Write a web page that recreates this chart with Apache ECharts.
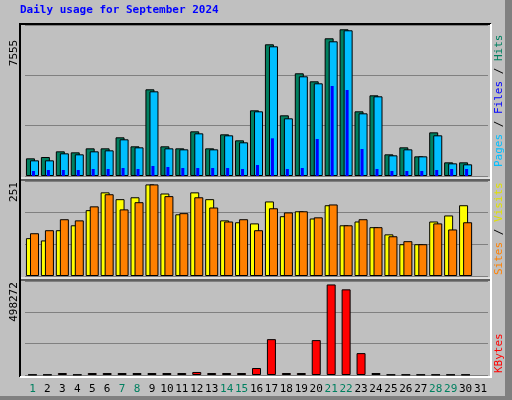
<!DOCTYPE html>
<html>
<head>
<meta charset="utf-8">
<script src="https://cdn.jsdelivr.net/npm/echarts@6/dist/echarts.min.js"></script>
<style>html,body{margin:0;padding:0;background:#c0c0c0}#main{width:512px;height:400px}</style>
</head>
<body>
<div id="main"></div>
<script>
var chart = echarts.init(document.getElementById("main"));

// days of September 2024 (31 slots like webalizer)
const days = ["1","2","3","4","5","6","7","8","9","10","11","12","13","14","15","16","17","18","19","20","21","22","23","24","25","26","27","28","29","30","31"];
const weekend = ["1","7","8","14","15","21","22","28","29"];
const hits = [884,950,1234,1184,1384,1384,1935,1485,4337,1485,1384,2235,1384,2085,1785,3286,6589,3036,5138,4737,6889,7340,3236,4037,1084,1434,984,2185,684,684,null];
const files = [784,784,1134,1084,1234,1284,1835,1434,4237,1384,1334,2135,1334,2035,1685,3236,6489,2886,4988,4637,6739,7290,3136,3987,1034,1334,984,2035,634,584,null];
const pages = [250,300,300,300,350,350,400,350,500,450,400,400,400,400,350,550,1885,350,400,1852,4504,4304,1351,350,250,250,250,300,350,350,null];
const visits = [100,94,121,134,174,221,203,208,242,218,163,221,203,147,142,139,197,158,171,152,187,134,144,129,110,84,84,144,160,187,null];
const sites = [113,121,150,147,184,216,176,195,242,211,166,208,181,144,150,121,179,168,171,155,189,134,150,129,105,92,84,139,123,142,null];
const kbytes = [2000,2000,10500,2000,10500,10500,10500,10500,10500,10500,10500,16000,10500,10500,10500,37000,190000,10500,10500,185000,480000,454000,116000,10500,2000,2000,2000,2000,2000,2000,null];
const maxHits = 7555, maxVisits = 251, maxKb = 498272;

const mono = "DejaVu Sans Mono";
const panels = [[25, 176], [181, 276], [281, 375]];
const grids = panels.map(p => ({ left: 25, right: 24, top: p[0], height: p[1] - p[0] }));
// pages get their own grid, nudged right onto the left edge of the files bar
grids.push({ left: 26, right: 23, top: 25, height: 151 });

function xAx(gi, show) {
  return {
    type: "category", data: days, gridIndex: gi,
    axisLine: { show: false }, axisTick: { show: false },
    axisLabel: show ? {
      show: true, interval: 0, margin: 9, fontFamily: mono, fontSize: 11,
      formatter: v => weekend.includes(v) ? "{w|" + v + "}" : v,
      color: "#000", rich: { w: { color: "#008060", fontFamily: mono, fontSize: 11 } }
    } : { show: false }
  };
}
function yAx(gi, max, hide) {
  return {
    type: "value", gridIndex: gi, min: 0, max: max, interval: max / 3,
    axisLabel: { show: false }, axisLine: { show: false }, axisTick: { show: false },
    splitLine: { show: !hide, lineStyle: { color: "#808080", width: 1 } }
  };
}
const edge = { borderColor: "#000", borderWidth: 1 };
function bar(name, x, y, data, color, w, extra) {
  return Object.assign({
    name: name, type: "bar", xAxisIndex: x, yAxisIndex: y, data: data, barWidth: w,
    itemStyle: Object.assign({ color: color }, edge), silent: true, animation: false
  }, extra || {});
}

function vtext(x, y, parts) {
  return {
    type: "text", x: x, y: y, rotation: Math.PI / 2,
    style: {
      text: parts.map((p, i) => "{s" + i + "|" + p[0] + "}").join(""),
      rich: Object.fromEntries(parts.map((p, i) => ["s" + i, { fill: p[1], fontFamily: mono, fontSize: 11 }])),
      align: "left", verticalAlign: "middle"
    }
  };
}

option = {
  backgroundColor: "#c0c0c0",
  grid: grids,
  xAxis: [xAx(0, false), xAx(3, false), xAx(1, false), xAx(2, true)],
  yAxis: [yAx(0, maxHits), yAx(1, maxVisits), yAx(2, maxKb), yAx(3, maxHits, true)],
  series: [
    bar("Hits", 0, 0, hits, "#008060", 9, { barGap: "-55%" }),
    bar("Files", 0, 0, files, "#00bfff", 9),
    bar("Pages", 1, 3, pages, "#0000ff", 3, { itemStyle: { color: "#0000ff", borderWidth: 0 }, z: 3 }),
    bar("Visits", 2, 1, visits, "#ffff00", 9, { barGap: "-55%" }),
    bar("Sites", 2, 1, sites, "#ff8000", 9),
    bar("KBytes", 3, 2, kbytes, "#ff0000", 9)
  ],
  graphic: [
    // outer bevel
    { type: "rect", shape: { x: 505, y: 0, width: 7, height: 400 }, style: { fill: "#808080" }, silent: true },
    { type: "rect", shape: { x: 0, y: 396, width: 512, height: 4 }, style: { fill: "#808080" }, silent: true },
    { type: "polyline", shape: { points: [[20, 377], [20, 24], [491, 24]] }, style: { stroke: "#000", lineWidth: 2, fill: null } },
    { type: "polyline", shape: { points: [[491, 24], [491, 377], [20, 377]] }, style: { stroke: "#fff", lineWidth: 2, fill: null } },
    { type: "line", shape: { x1: 21, y1: 178, x2: 490, y2: 178 }, style: { stroke: "#fff", lineWidth: 1 } },
    { type: "line", shape: { x1: 21, y1: 180, x2: 490, y2: 180 }, style: { stroke: "#000", lineWidth: 1 } },
    { type: "line", shape: { x1: 21, y1: 278, x2: 490, y2: 278 }, style: { stroke: "#fff", lineWidth: 1 } },
    { type: "line", shape: { x1: 21, y1: 280, x2: 490, y2: 280 }, style: { stroke: "#000", lineWidth: 1 } },
    { type: "text", x: 20, y: 10, style: { text: "Daily usage for September 2024", fill: "#0000ff", fontFamily: mono, fontSize: 11, fontWeight: "bold", verticalAlign: "middle" } },
    { type: "text", x: 14, y: 53, rotation: Math.PI / 2, style: { text: String(maxHits), fill: "#000", fontFamily: mono, fontSize: 11, align: "center", verticalAlign: "middle" } },
    { type: "text", x: 14, y: 192, rotation: Math.PI / 2, style: { text: String(maxVisits), fill: "#000", fontFamily: mono, fontSize: 11, align: "center", verticalAlign: "middle" } },
    { type: "text", x: 14, y: 302, rotation: Math.PI / 2, style: { text: String(maxKb), fill: "#000", fontFamily: mono, fontSize: 11, align: "center", verticalAlign: "middle" } },
    vtext(499, 167, [["Pages", "#00bfff"], [" / ", "#000"], ["Files", "#0000ff"], [" / ", "#000"], ["Hits", "#008060"]]),
    vtext(499, 275, [["Sites", "#ff8000"], [" / ", "#000"], ["Visits", "#e0e000"]]),
    vtext(499, 373, [["KBytes", "#ff0000"]])
  ]
};
chart.setOption(option);
</script>
</body>
</html>
